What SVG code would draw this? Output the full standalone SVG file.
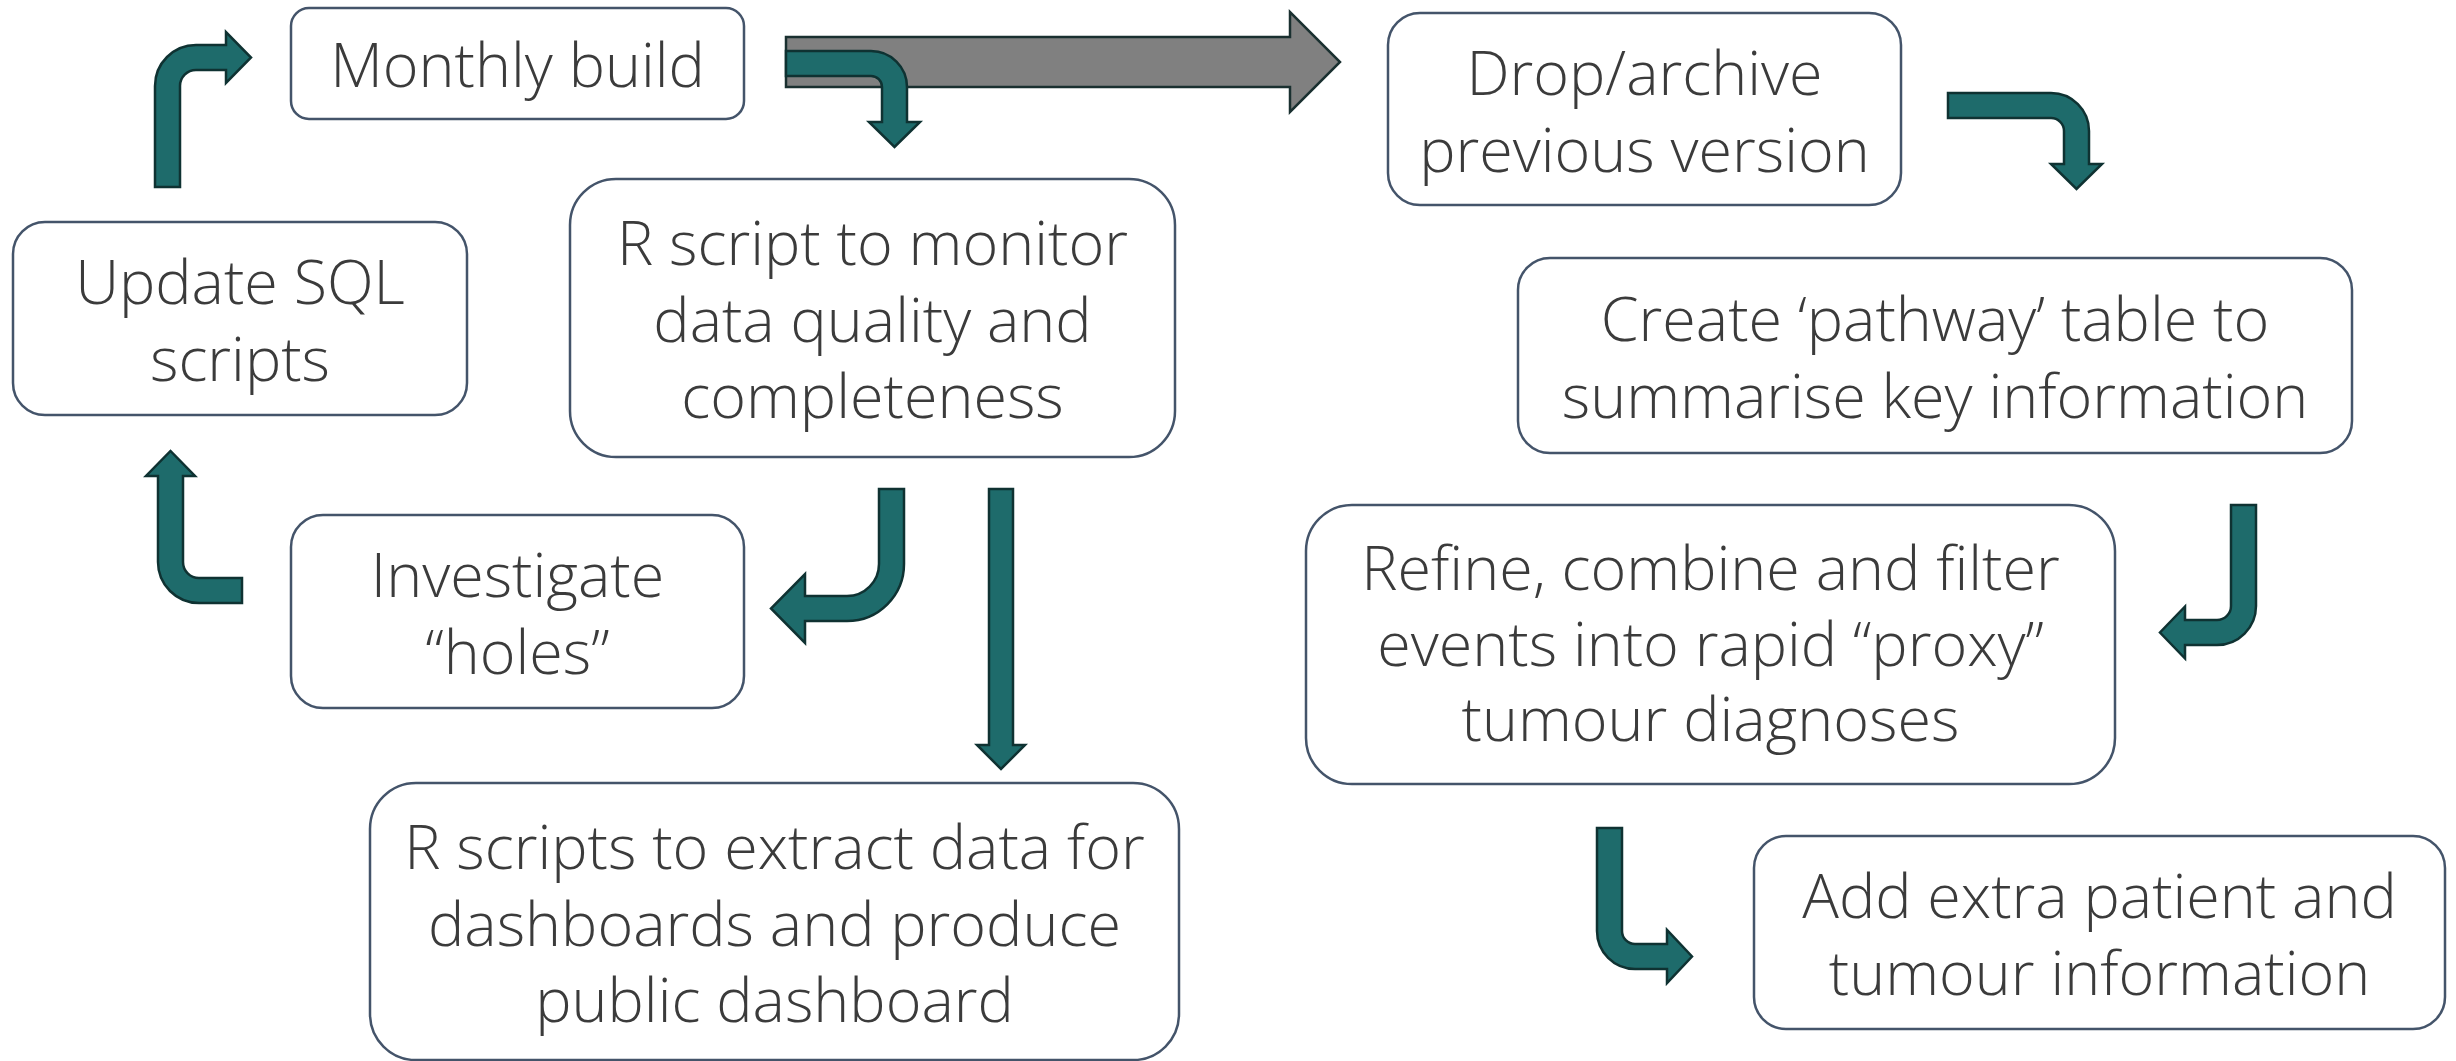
<svg xmlns="http://www.w3.org/2000/svg" width="2456" height="1061" viewBox="0 0 2456 1061">
<style>
.box{fill:#ffffff;stroke:#44546A;stroke-width:2.5}
.lbl{font-family:"Open Sans","Liberation Sans",sans-serif;font-weight:300;font-size:61px;fill:#3B3B3B;text-anchor:middle}
.teal{fill:#1E6B6B;stroke:#0F3232;stroke-width:2.5;stroke-linejoin:miter}
.grey{fill:#808080;stroke:#1A3030;stroke-width:2.5}
</style>
<rect width="2456" height="1061" fill="#ffffff"/>
<g id="connectors">
<path class="grey" d="M786,37 L1290,37 L1290,12 L1340,62 L1290,112 L1290,87 L786,87 Z"/>
<path class="teal" d="M155,187 L155,86 A41,41 0 0 1 196,45 L226,45 L226,32 L251,57.5 L226,83 L226,70 L196,70 A16,16 0 0 0 180,86 L180,187 Z"/>
<path class="teal" d="M786,51 L871,51 A36,36 0 0 1 907,87 L907,122 L920,122 L894.5,147 L869,122 L882,122 L882,87 A11,11 0 0 0 871,76 L786,76 Z"/>
<path class="teal" d="M879,489 L904,489 L904,564 A57,57 0 0 1 847,621 L805,621 L805,643 L771,608.5 L805,574 L805,596 L847,596 A32,32 0 0 0 879,564 Z"/>
<path class="teal" d="M989,489 L1013,489 L1013,745 L1025,745 L1001,769 L977,745 L989,745 Z"/>
<path class="teal" d="M242,578 L242,603 L199,603 A41,41 0 0 1 158,562 L158,476 L146,476 L170.5,451 L195,476 L183,476 L183,562 A16,16 0 0 0 199,578 Z"/>
<path class="teal" d="M1948,93 L2051,93 A38,38 0 0 1 2089,131 L2089,164 L2102,164 L2076.5,189 L2051,164 L2064,164 L2064,131 A13,13 0 0 0 2051,118 L1948,118 Z"/>
<path class="teal" d="M2231,505 L2256,505 L2256,606 A39,39 0 0 1 2217,645 L2185,645 L2185,658.5 L2160,632.5 L2185,606.5 L2185,620 L2217,620 A14,14 0 0 0 2231,606 Z"/>
<path class="teal" d="M1597,828 L1622,828 L1622,931 A13,13 0 0 0 1635,944 L1667,944 L1667,930 L1692,956.5 L1667,983 L1667,969 L1635,969 A38,38 0 0 1 1597,931 Z"/>
</g>
<g id="monthly-build">
<rect class="box" x="291" y="8" width="453" height="111" rx="18"/>
<text class="lbl" x="517.5" y="87">Monthly build</text>
</g>
<g id="update-sql">
<rect class="box" x="13" y="222" width="454" height="193" rx="32"/>
<text class="lbl" x="240" y="304">Update SQL</text>
<text class="lbl" x="240" y="381">scripts</text>
</g>
<g id="r-monitor">
<rect class="box" x="570" y="179" width="605" height="278" rx="46"/>
<text class="lbl" x="872.5" y="265">R script to monitor</text>
<text class="lbl" x="872.5" y="342">data quality and</text>
<text class="lbl" x="872.5" y="418">completeness</text>
</g>
<g id="investigate">
<rect class="box" x="291" y="515" width="453" height="193" rx="32"/>
<text class="lbl" x="517.5" y="597">Investigate</text>
<text class="lbl" x="517.5" y="674">“holes”</text>
</g>
<g id="r-extract">
<rect class="box" x="370" y="783" width="809" height="277" rx="46"/>
<text class="lbl" x="774.5" y="869">R scripts to extract data for</text>
<text class="lbl" x="774.5" y="946">dashboards and produce</text>
<text class="lbl" x="774.5" y="1022">public dashboard</text>
</g>
<g id="drop-archive">
<rect class="box" x="1388" y="13" width="513" height="192" rx="32"/>
<text class="lbl" x="1644.5" y="95">Drop/archive</text>
<text class="lbl" x="1644.5" y="172">previous version</text>
</g>
<g id="create-pathway">
<rect class="box" x="1518" y="258" width="834" height="195" rx="32"/>
<text class="lbl" x="1935" y="341">Create ‘pathway’ table to</text>
<text class="lbl" x="1935" y="418">summarise key information</text>
</g>
<g id="refine">
<rect class="box" x="1306" y="505" width="809" height="279" rx="46"/>
<text class="lbl" x="1710.5" y="590">Refine, combine and filter</text>
<text class="lbl" x="1710.5" y="666">events into rapid “proxy”</text>
<text class="lbl" x="1710.5" y="741">tumour diagnoses</text>
</g>
<g id="add-extra">
<rect class="box" x="1754" y="836" width="691" height="193" rx="32"/>
<text class="lbl" x="2099.5" y="918">Add extra patient and</text>
<text class="lbl" x="2099.5" y="995">tumour information</text>
</g>
</svg>
